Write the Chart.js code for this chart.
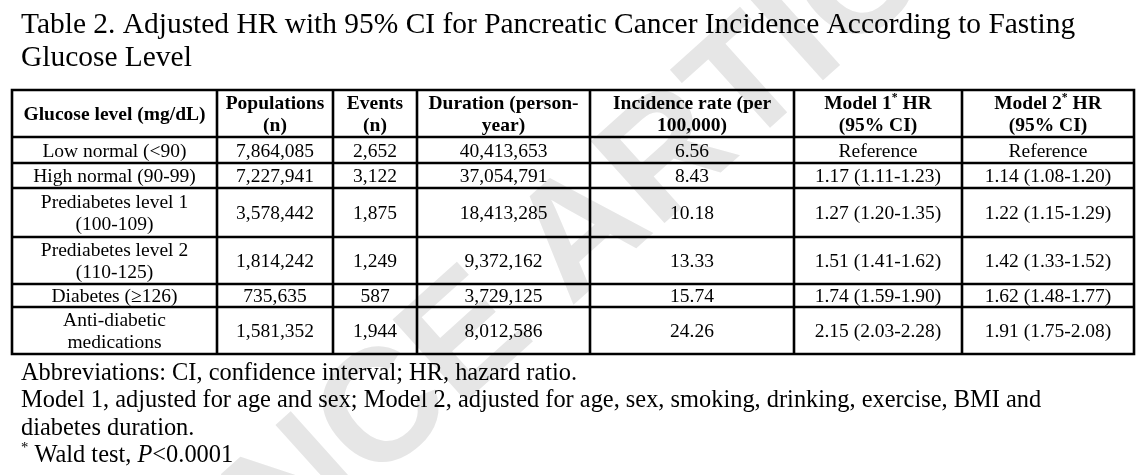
<!DOCTYPE html>
<html>
<head>
<meta charset="utf-8">
<script src="https://cdn.jsdelivr.net/npm/chart.js@4.4.1/dist/chart.umd.min.js"></script>
<style>
  html, body { margin: 0; padding: 0; background: #fff; }
  #wrap { position: relative; width: 1146px; height: 475px; }
</style>
</head>
<body>
<div id="wrap"><canvas id="tableChart"></canvas></div>
<script>
// table data
const headers = ['Glucose level (mg/dL)', 'Populations\n(n)', 'Events\n(n)', 'Duration (person-\nyear)',
  'Incidence rate (per\n100,000)', 'Model 1^* HR\n(95% CI)', 'Model 2^* HR\n(95% CI)'];
const glucoseLevels = ['Low normal (<90)', 'High normal (90-99)', 'Prediabetes level 1\n(100-109)',
  'Prediabetes level 2\n(110-125)', 'Diabetes (\u2265126)', 'Anti-diabetic\nmedications'];
const populations = [7864085, 7227941, 3578442, 1814242, 735635, 1581352];
const events = [2652, 3122, 1875, 1249, 587, 1944];
const durations = [40413653, 37054791, 18413285, 9372162, 3729125, 8012586];
const incidenceRates = [6.56, 8.43, 10.18, 13.33, 15.74, 24.26];
const model1HR = [null, 1.17, 1.27, 1.51, 1.74, 2.15];
const model1Low = [null, 1.11, 1.20, 1.41, 1.59, 2.03];
const model1High = [null, 1.23, 1.35, 1.62, 1.90, 2.28];
const model2HR = [null, 1.14, 1.22, 1.42, 1.62, 1.91];
const model2Low = [null, 1.08, 1.15, 1.33, 1.48, 1.75];
const model2High = [null, 1.20, 1.29, 1.52, 1.77, 2.08];

const titleLines = ['Table 2. Adjusted HR with 95% CI for Pancreatic Cancer Incidence According to Fasting', 'Glucose Level'];
const footLines = [
  [{ t: 'Abbreviations: CI, confidence interval; HR, hazard ratio.' }],
  [{ t: 'Model 1, adjusted for age and sex; Model 2, adjusted for age, sex, smoking, drinking, exercise, BMI and' }],
  [{ t: 'diabetes duration.' }],
  [{ t: '*', sup: true }, { t: ' Wald test, ' }, { t: 'P', italic: true }, { t: '<0.0001' }]
];

// layout (table units, 1 unit ~ 1px)
const colEdges = [0, 205, 321, 405, 578, 782, 950, 1122];
const rowEdges = [0, 47, 73, 98, 147, 194, 217, 264];
const SERIF = '"Liberation Serif", "Times New Roman", serif';

const fmtInt = v => v.toLocaleString('en-US');
const fmtHR = (hr, lo, hi) => hr == null ? 'Reference' : hr.toFixed(2) + ' (' + lo.toFixed(2) + '-' + hi.toFixed(2) + ')';

const rows = [headers];
glucoseLevels.forEach((g, i) => {
  rows.push([g, fmtInt(populations[i]), fmtInt(events[i]), fmtInt(durations[i]), incidenceRates[i].toFixed(2),
    fmtHR(model1HR[i], model1Low[i], model1High[i]), fmtHR(model2HR[i], model2Low[i], model2High[i])]);
});

const cells = [];
rows.forEach((row, r) => {
  row.forEach((text, c) => {
    cells.push({
      x: (colEdges[c] + colEdges[c + 1]) / 2,
      y: (rowEdges[r] + rowEdges[r + 1]) / 2,
      text: text,
      bold: r === 0
    });
  });
});

function segFont(s, size, bold) {
  const sz = s.sup ? size * 0.6 : size;
  return (s.italic ? 'italic ' : '') + (bold ? 'bold ' : '') + sz + 'px ' + SERIF;
}

function drawSegments(ctx, segs, x, y, size, bold, align) {
  let total = 0;
  segs.forEach(s => { ctx.font = segFont(s, size, bold); s.w = ctx.measureText(s.t).width; total += s.w; });
  let cx = align === 'center' ? x - total / 2 : x;
  ctx.textAlign = 'left';
  segs.forEach(s => {
    ctx.font = segFont(s, size, bold);
    ctx.fillText(s.t, cx, s.sup ? y - size * 0.42 : y);
    cx += s.w;
  });
}

function parseSup(line) {
  const parts = line.split('^*');
  const segs = [];
  parts.forEach((p, i) => {
    if (i > 0) segs.push({ t: '*', sup: true });
    if (p) segs.push({ t: p });
  });
  return segs;
}

const watermarkPlugin = {
  id: 'watermark',
  beforeDatasetsDraw(chart) {
    const ctx = chart.ctx;
    ctx.save();
    ctx.fillStyle = '#e6e6e6';
    ctx.font = 'bold 160px "Liberation Sans", Arial, sans-serif';
    ctx.textBaseline = 'alphabetic';
    ctx.translate(575, 226);
    ctx.rotate(-42 * Math.PI / 180);
    const wA = ctx.measureText('A').width;
    ctx.textAlign = 'right';
    ctx.fillText('ADVANCE ', -wA / 2, 160 * 0.36);
    ctx.textAlign = 'left';
    ctx.fillText('ARTICLE', -wA / 2, 160 * 0.36);
    ctx.restore();
  }
};

const tablePlugin = {
  id: 'tableDraw',
  afterDatasetsDraw(chart) {
    const ctx = chart.ctx;
    const xs = chart.scales.x, ys = chart.scales.y;
    ctx.save();
    ctx.fillStyle = '#000';
    ctx.textBaseline = 'alphabetic';

    // title
    titleLines.forEach((t, i) => drawSegments(ctx, [{ t: t }], 21, 33 + i * 33, 29.45, false, 'left'));

    // grid
    ctx.strokeStyle = '#000';
    ctx.lineWidth = 2.6;
    ctx.lineCap = 'square';
    const top = ys.getPixelForValue(rowEdges[0]), bottom = ys.getPixelForValue(rowEdges[rowEdges.length - 1]);
    const left = xs.getPixelForValue(colEdges[0]), right = xs.getPixelForValue(colEdges[colEdges.length - 1]);
    ctx.beginPath();
    colEdges.forEach(v => { const px = xs.getPixelForValue(v); ctx.moveTo(px, top); ctx.lineTo(px, bottom); });
    rowEdges.forEach(v => { const py = ys.getPixelForValue(v); ctx.moveTo(left, py); ctx.lineTo(right, py); });
    ctx.stroke();

    // cell text
    const meta = chart.getDatasetMeta(0);
    const data = chart.data.datasets[0].data;
    meta.data.forEach((el, i) => {
      const d = data[i];
      const lines = d.text.split('\n');
      const lh = 22.5;
      const y0 = el.y - (lines.length - 1) * lh / 2 + 6.5;
      lines.forEach((ln, k) => drawSegments(ctx, parseSup(ln), el.x, y0 + k * lh, 19.5, d.bold, 'center'));
    });

    // footer
    footLines.forEach((segs, i) => drawSegments(ctx, segs, 21, 380 + i * 27.3, 24.4, false, 'left'));
    ctx.restore();
  }
};

new Chart(document.getElementById('tableChart'), {
  type: 'scatter',
  data: {
    datasets: [{
      data: cells,
      pointRadius: 0,
      pointHoverRadius: 0
    }]
  },
  options: {
    responsive: true,
    maintainAspectRatio: false,
    animation: false,
    events: [],
    layout: { padding: { left: 12, right: 12, top: 90, bottom: 121 } },
    scales: {
      x: { type: 'linear', display: false, min: colEdges[0], max: colEdges[colEdges.length - 1] },
      y: { type: 'linear', display: false, min: rowEdges[0], max: rowEdges[rowEdges.length - 1], reverse: true }
    },
    plugins: {
      legend: { display: false },
      tooltip: { enabled: false }
    }
  },
  plugins: [watermarkPlugin, tablePlugin]
});
</script>
</body>
</html>
